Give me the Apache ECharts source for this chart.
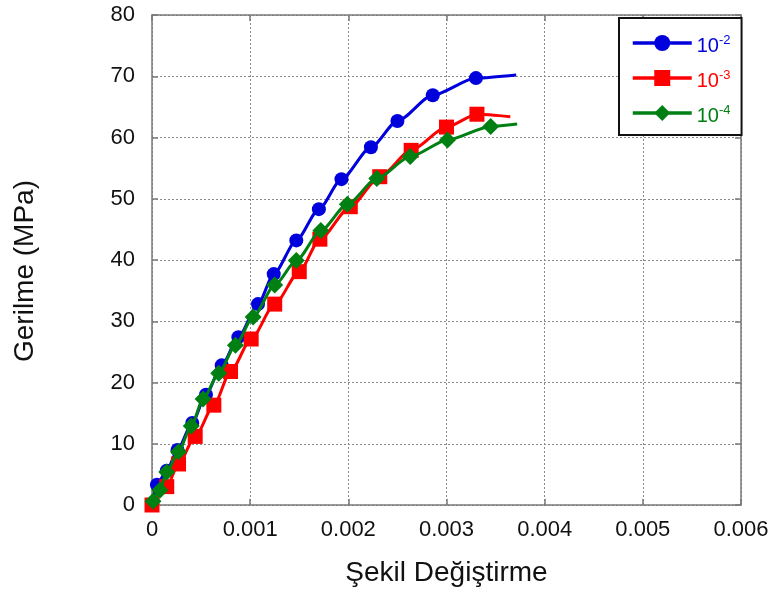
<!DOCTYPE html>
<html>
<head>
<meta charset="utf-8">
<script src="https://cdn.jsdelivr.net/npm/echarts@6/dist/echarts.min.js"></script>
<style>html,body{margin:0;padding:0;background:#fff}#c{width:776px;height:597px}</style>
</head>
<body>
<div id="c"></div>
<script>
var seriesNames = ['10-2', '10-3', '10-4'];
var seriesColors = ['#0000dd', '#ff0000', '#008012'];
var seriesSymbols = ['circle', 'rect', 'diamond'];

// [strain, stress MPa]
var rate2 = [[0,0],[0.00005,3.3],[0.00015,5.6],[0.00026,9.0],[0.00041,13.4],[0.00055,18.0],[0.00071,22.8],[0.00088,27.4],[0.00108,32.8],[0.00124,37.7],[0.00147,43.2],[0.00170,48.3],[0.00193,53.2],[0.00223,58.4],[0.00250,62.7],[0.00286,66.9],[0.00330,69.7]];
var rate2Tail = [[0.00371,70.2]];
var rate3 = [[0,0],[0.00015,3.0],[0.00027,6.7],[0.00044,11.2],[0.00063,16.3],[0.00080,21.8],[0.00101,27.1],[0.00125,32.8],[0.00150,38.1],[0.00171,43.4],[0.00202,48.7],[0.00232,53.6],[0.00264,57.9],[0.00300,61.7],[0.00331,63.8]];
var rate3Tail = [[0.00365,63.4]];
var rate4 = [[0.00001,0.6],[0.00008,2.4],[0.00015,5.4],[0.00027,8.7],[0.00040,12.9],[0.00052,17.3],[0.00068,21.5],[0.00085,26.1],[0.00103,30.7],[0.00125,35.9],[0.00147,39.9],[0.00172,44.8],[0.00199,49.1],[0.00229,53.3],[0.00263,56.9],[0.00301,59.6],[0.00345,61.8]];
var rate4Tail = [[0.00372,62.2]];

var xTicks = [0, 0.001, 0.002, 0.003, 0.004, 0.005, 0.006];
var yTicks = [0, 10, 20, 30, 40, 50, 60, 70, 80];

var allData = [[rate2, rate2Tail], [rate3, rate3Tail], [rate4, rate4Tail]];

function build(i) {
  var pts = allData[i][0].map(function (p) { return { value: p }; });
  allData[i][1].forEach(function (p) { pts.push({ value: p, symbol: 'none' }); });
  return pts;
}

var gridColor = '#8a8a8a';
var frameColor = '#7a7a7a';
var font = 'Liberation Sans';

var chart = echarts.init(document.getElementById('c'));
var series = seriesNames.map(function (n, i) {
  return {
    name: n,
    type: 'line',
    data: build(i),
    smooth: 0.25,
    smoothMonotone: 'x',
    symbol: seriesSymbols[i],
    symbolSize: i === 2 ? 17 : (i === 1 ? 15 : 14),
    lineStyle: { color: seriesColors[i], width: 3 },
    itemStyle: { color: seriesColors[i] },
    z: 2 + i,
    animation: false
  };
});

var rich = {};
seriesNames.forEach(function (n, i) {
  rich['b' + i] = { color: seriesColors[i], fontSize: 20, fontFamily: font, lineHeight: 14, padding: [6, 0, 0, 0] };
  rich['s' + i] = { color: seriesColors[i], fontSize: 13, fontFamily: font, lineHeight: 14, padding: [0, 0, 6, 0] };
});

chart.setOption({
  backgroundColor: '#fff',
  animation: false,
  grid: { left: 152, right: 35, top: 15, bottom: 92 },
  legend: {
    orient: 'vertical',
    left: 619,
    top: 18,
    padding: [12, 11, 9, 12],
    itemGap: 9,
    itemWidth: 59,
    itemHeight: 20,
    borderColor: '#111',
    borderWidth: 2,
    backgroundColor: '#fff',
    lineStyle: { width: 3.5 },
    data: seriesNames.map(function (n) { return { name: n }; }),
    formatter: function (name) {
      var i = seriesNames.indexOf(name);
      var parts = name.split('-');
      return '{b' + i + '|10}{s' + i + '|-' + parts[1] + '}';
    },
    textStyle: { rich: rich, fontFamily: font, fontSize: 20 }
  },
  xAxis: [{
    type: 'value',
    min: xTicks[0], max: xTicks[xTicks.length - 1], interval: 0.001,
    name: 'Şekil Değiştirme',
    nameLocation: 'middle',
    nameGap: 54,
    nameTextStyle: { fontFamily: font, fontSize: 28, color: '#111' },
    axisLine: { show: true, onZero: false, lineStyle: { color: frameColor, width: 1.5 } },
    axisTick: { show: true, inside: true, length: 6, lineStyle: { color: frameColor, width: 1.5 } },
    axisLabel: {
      margin: 14, fontFamily: font, fontSize: 22, color: '#111',
      formatter: function (v) { return v === 0 ? '0' : v.toFixed(3); }
    },
    splitLine: { show: true, lineStyle: { color: gridColor, type: [2, 2], width: 1 } }
  }, {
    type: 'value', position: 'top',
    min: xTicks[0], max: xTicks[xTicks.length - 1], interval: 0.001,
    axisLine: { show: true, onZero: false, lineStyle: { color: frameColor, width: 1.5 } },
    axisTick: { show: true, inside: true, length: 6, lineStyle: { color: frameColor, width: 1.5 } },
    axisLabel: { show: false },
    splitLine: { show: false }
  }],
  yAxis: [{
    type: 'value',
    min: yTicks[0], max: yTicks[yTicks.length - 1], interval: 10,
    name: 'Gerilme (MPa)',
    nameLocation: 'middle',
    nameGap: 113,
    nameTextStyle: { fontFamily: font, fontSize: 28, color: '#111', padding: [0, 22, 0, 0] },
    axisLine: { show: true, onZero: false, lineStyle: { color: frameColor, width: 1.5 } },
    axisTick: { show: true, inside: true, length: 6, lineStyle: { color: frameColor, width: 1.5 } },
    axisLabel: { margin: 17, fontFamily: font, fontSize: 22, color: '#111' },
    splitLine: { show: true, lineStyle: { color: gridColor, type: [2, 2], width: 1 } }
  }, {
    type: 'value', position: 'right',
    min: yTicks[0], max: yTicks[yTicks.length - 1], interval: 10,
    axisLine: { show: true, onZero: false, lineStyle: { color: frameColor, width: 1.5 } },
    axisTick: { show: true, inside: true, length: 6, lineStyle: { color: frameColor, width: 1.5 } },
    axisLabel: { show: false },
    splitLine: { show: false }
  }],
  series: series
});
</script>
</body>
</html>
